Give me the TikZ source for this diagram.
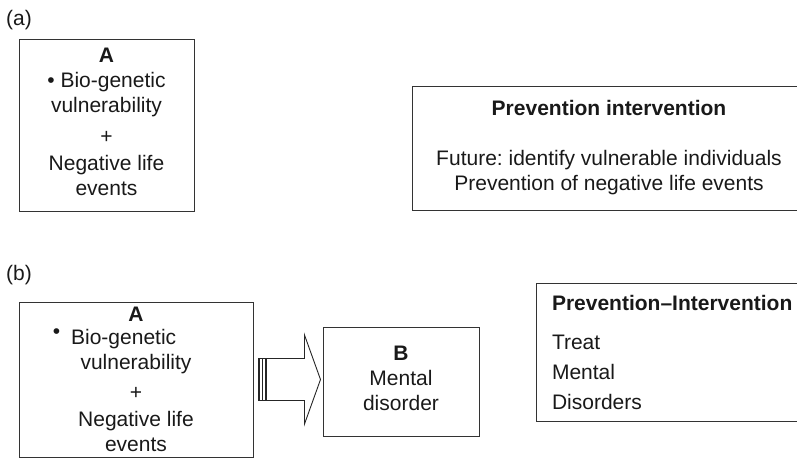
\documentclass[tikz,border=0pt]{standalone}
\usepackage{fontspec}
\setmainfont{Liberation Sans}
\frenchspacing
\usetikzlibrary{calc,positioning}
\tikzset{
  kasse/.style={
    rectangle,
    draw=black!80, line width=1pt,
    inner sep=0pt,
    align=center},
  etiket/.style={inner sep=0pt},
  pil/.style={draw=black!85, line width=0.9pt, fill=white, line join=miter},
  stribe/.style={draw=black!85, line width=1.5pt},
}

\begin{document}
\begin{tikzpicture}
  [x=1pt, y=-1pt,
  font=\fontsize{21}{25}\selectfont, text=black!90]
  \useasboundingbox (0,0) rectangle (797,467);
  % (a)
  \node[etiket] (la) at (19,20) {(a)};
  \node[kasse, minimum width=175pt, minimum height=172pt] (Aa) at (106.5,125)
    {\textbf{A}\\ \textbullet\ Bio-genetic\\ vulnerability\\[6pt] +\\[2pt]
     Negative life\\ events\rule[-7pt]{0pt}{7pt}};
  \node[kasse, right=217pt of Aa, yshift=-23pt,
    minimum width=394pt, minimum height=124pt] (Pa)
    {\textbf{Prevention intervention}\\[25pt]
     Future: identify vulnerable individuals\\
     Prevention of negative life events};
  % (b)
  \node[etiket] (lb) at (19,275) {(b)};
  \node[kasse, minimum width=234pt, minimum height=155pt] (Ab) at (136,379.5)
    {\textbf{A}\\[-2pt]
     \hspace*{-43pt}\raisebox{6pt}{\textbullet}\hspace{11pt}Bio-genetic\\
     vulnerability\\[5pt] +\\[2pt] Negative life\\ events};
  \node[kasse, right=69pt of Ab, yshift=-2pt,
    minimum width=156pt, minimum height=109pt] (B)
    {\textbf{B}\\ Mental\\ disorder\rule[-5.5pt]{0pt}{5.5pt}};
  \node[kasse, right=56pt of B, yshift=29.5pt, align=left,
    text width=248pt, inner xsep=16pt, minimum height=138pt] (Pb)
    {\textbf{Prevention–Intervention}\\[14pt] Treat\\[5pt] Mental\\[5pt] Disorders};
  % block arrow from A to B
  \coordinate (hale) at ($(Ab.east)+(5,0)$);
  \coordinate (spids) at ($(B.west |- Ab.east)+(-2,0)$);
  \draw[pil] ($(hale)+(0,-21)$) -- ($(spids)+(-16,-21)$) -- ($(spids)+(-16,-44.5)$)
    -- (spids) -- ($(spids)+(-16,44.5)$) -- ($(spids)+(-16,21)$)
    -- ($(hale)+(0,21)$) -- cycle;
  \foreach \dx in {0.8,4,7.5}
    \draw[stribe] ($(hale)+(\dx,-21)$) -- ($(hale)+(\dx,21)$);
\end{tikzpicture}
\end{document}
